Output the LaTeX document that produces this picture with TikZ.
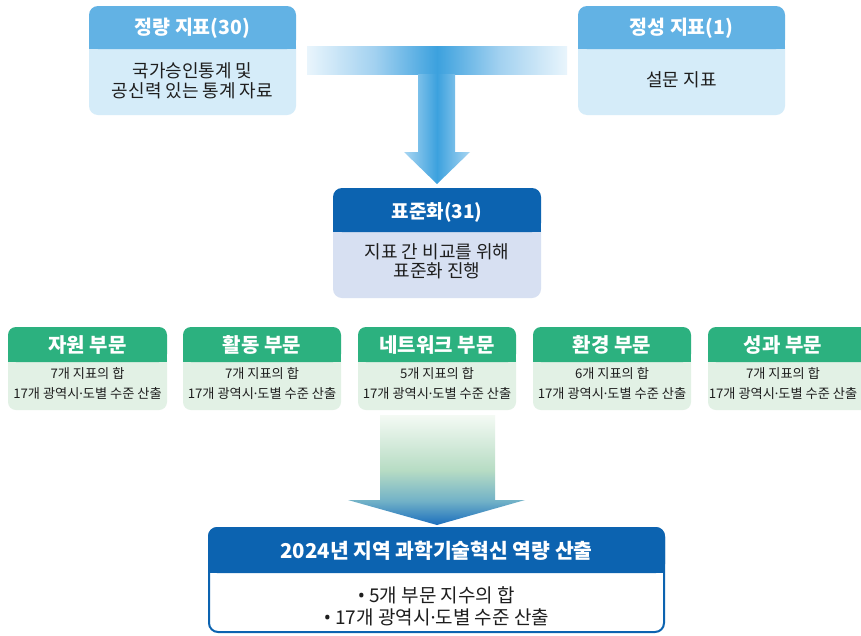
\documentclass[tikz,border=0pt]{standalone}
\usepackage{fontspec}
\setmainfont{Noto Sans CJK KR}
\newfontfamily\latinf{Noto Sans}
\newcommand\mdot{{\latinf ·}}
\newcommand\bull{{\latinf •}\ }
\definecolor{tophdr}{HTML}{62B2E4}
\definecolor{topbody}{HTML}{D5ECF9}
\definecolor{midhdr}{HTML}{0C63B0}
\definecolor{midbody}{HTML}{D7E0F2}
\definecolor{grhdr}{HTML}{2CB17F}
\definecolor{grbody}{HTML}{E2F1E5}
\definecolor{txtc}{HTML}{1E1E1E}
\definecolor{be}{HTML}{E9F5FC}
\definecolor{bl}{HTML}{A2D1F0}
\definecolor{bm}{HTML}{3CA1DE}
\definecolor{ae}{HTML}{A9D6F2}
\definecolor{la}{HTML}{F4FAF4}
\definecolor{lb}{HTML}{B7DCC4}
\definecolor{lc}{HTML}{72B2C7}
\definecolor{ld}{HTML}{1B6EBD}
\pgfdeclarehorizontalshading{tbar}{100bp}{color(0bp)=(be); color(25bp)=(be); color(38bp)=(bl); color(50bp)=(bm); color(62bp)=(bl); color(75bp)=(be); color(100bp)=(be)}
\pgfdeclarehorizontalshading{tarrow}{100bp}{color(0bp)=(ae); color(25bp)=(ae); color(50bp)=(bm); color(75bp)=(ae); color(100bp)=(ae)}
\pgfdeclareverticalshading{larrow}{100bp}{color(0bp)=(ld); color(25bp)=(ld); color(36bp)=(lc); color(50bp)=(lb); color(75bp)=(la); color(100bp)=(la)}
\newcommand\drawpanel[8]{%
  \fill[#7, rounded corners=#8] (#1,#5-12) rectangle (#3,#4);
  \fill[#6, rounded corners=#8] (#1,#2) rectangle (#3,#5);
  \fill[#6] (#1,#5-12) rectangle (#3,#5);
}
\tikzset{
  x=1pt, y=-1pt,
  hdrtxt/.style={text=white, font=\bfseries\fontsize{19.5}{22}\selectfont, inner sep=0pt},
  bodytxt/.style={text=txtc, align=center, font=\fontsize{18}{20.5}\selectfont, inner sep=0pt},
  midhdrtxt/.style={text=white, font=\bfseries\fontsize{19}{22}\selectfont, inner sep=0pt},
  midbodytxt/.style={text=txtc, align=center, font=\fontsize{18}{19}\selectfont, inner sep=0pt},
  ghdrtxt/.style={text=white, font=\bfseries\fontsize{20}{22}\selectfont, inner sep=0pt},
  gbodytxt/.style={text=txtc, align=center, font=\fontsize{13.2}{20}\selectfont, inner sep=0pt},
  bhdrtxt/.style={text=white, font=\bfseries\fontsize{20.4}{22}\selectfont, inner sep=0pt},
  bbodytxt/.style={text=txtc, align=center, font=\fontsize{19}{22}\selectfont, inner sep=0pt},
}
\begin{document}
\begin{tikzpicture}
\useasboundingbox (0,0) rectangle (861,635);
\fill[white] (0,0) rectangle (861,635);

% top panels
\drawpanel{89}{6}{296}{115}{49}{tophdr}{topbody}{9pt}
\drawpanel{578}{6}{785}{115}{49}{tophdr}{topbody}{9pt}
\node[hdrtxt] (qh) at (192.5,28) {정량 지표(30)};
\node[bodytxt] (qb) at (192.5,81) {국가승인통계 및\\공신력 있는 통계 자료};
\node[hdrtxt] (sh) at (681.5,28) {정성 지표(1)};
\node[bodytxt] (sb) at (681.5,80) {설문 지표};

% top merging arrow
\shade[shading=tbar] (307,46) rectangle (567,74);
\shade[shading=tarrow] (418,74) -- (455,74) -- (455,152) -- (470,152) -- (437,184) -- (404,152) -- (418,152) -- cycle;

% middle panel
\drawpanel{333}{188}{541}{298}{232}{midhdr}{midbody}{9pt}
\node[midhdrtxt] (mh) at (437,212) {표준화(31)};
\node[midbodytxt] (mb) at (437,261) {지표 간 비교를 위해\\표준화 진행};

% green panels
\drawpanel{8}{327}{167}{410}{362}{grhdr}{grbody}{8pt}
\drawpanel{183}{327}{341}{410}{362}{grhdr}{grbody}{8pt}
\drawpanel{358}{327}{516}{410}{362}{grhdr}{grbody}{8pt}
\drawpanel{533}{327}{691}{410}{362}{grhdr}{grbody}{8pt}
\drawpanel{708}{327}{870}{410}{362}{grhdr}{grbody}{8pt}
\node[ghdrtxt] (g1h) at (87.5,345) {자원 부문};
\node[gbodytxt] (g1b) at (87.5,384) {7개 지표의 합\\17개 광역시\mdot 도별 수준 산출};
\node[ghdrtxt] (g2h) at (262,345) {활동 부문};
\node[gbodytxt] (g2b) at (262,384) {7개 지표의 합\\17개 광역시\mdot 도별 수준 산출};
\node[ghdrtxt] (g3h) at (437,345) {네트워크 부문};
\node[gbodytxt] (g3b) at (437,384) {5개 지표의 합\\17개 광역시\mdot 도별 수준 산출};
\node[ghdrtxt] (g4h) at (612,345) {환경 부문};
\node[gbodytxt] (g4b) at (612,384) {6개 지표의 합\\17개 광역시\mdot 도별 수준 산출};
\node[ghdrtxt] (g5h) at (783,345) {성과 부문};
\node[gbodytxt] (g5b) at (783,384) {7개 지표의 합\\17개 광역시\mdot 도별 수준 산출};

% lower arrow
\shade[shading=larrow] (380,415) -- (495,415) -- (495,500) -- (525,500) -- (437,525) -- (348,500) -- (380,500) -- cycle;

% bottom panel
\draw[midhdr, line width=2pt, fill=white, rounded corners=9pt] (209,528) rectangle (664,632);
\fill[midhdr, rounded corners=9pt] (208,527) rectangle (665,573);
\fill[midhdr] (208,561) rectangle (665,573);
\node[bhdrtxt] (bh) at (436.5,551) {2024년 지역 과학기술혁신 역량 산출};
\node[bbodytxt] (bb) at (436.5,606) {\bull 5개 부문 지수의 합\\\bull 17개 광역시\mdot 도별 수준 산출};
\end{tikzpicture}
\end{document}
